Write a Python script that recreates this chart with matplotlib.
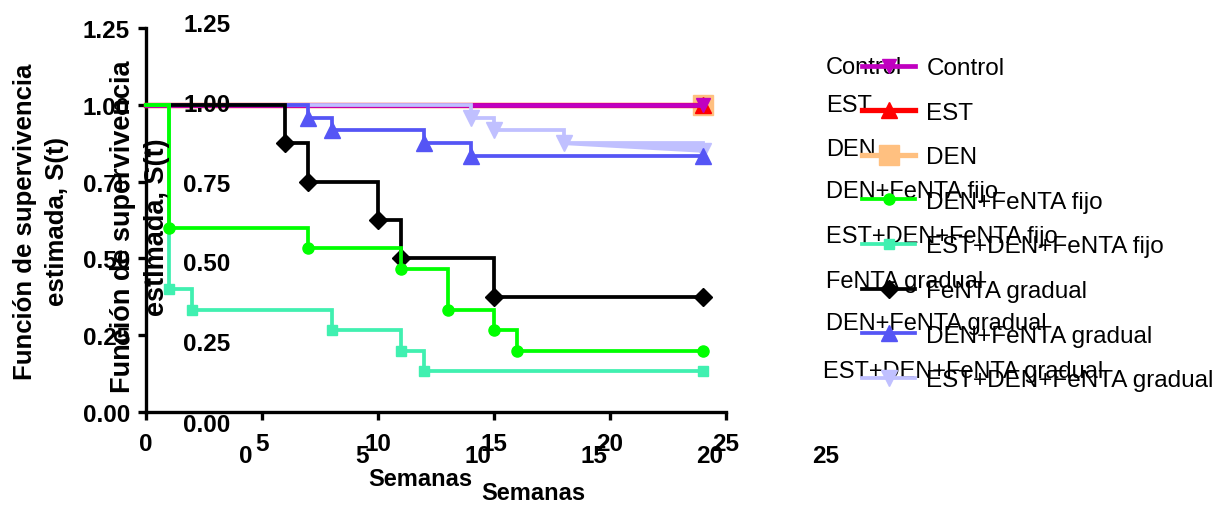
import matplotlib
matplotlib.use("Agg")
import matplotlib.pyplot as plt

# ---------------- data ----------------
week_ticks = [0, 5, 10, 15, 20, 25]
surv_ticks = [0.00, 0.25, 0.50, 0.75, 1.00, 1.25]
surv_tick_labels = ["0.00", "0.25", "0.50", "0.75", "1.00", "1.25"]

group_labels = ["Control", "EST", "DEN", "DEN+FeNTA fijo", "EST+DEN+FeNTA fijo",
                "FeNTA gradual", "DEN+FeNTA gradual", "EST+DEN+FeNTA gradual"]

control_t = [0, 24]
control_s = [1.0, 1.0]
est_t = [0, 24]
est_s = [1.0, 1.0]
den_t = [0, 24]
den_s = [1.0, 1.0]
den_fijo_t = [0, 1, 7, 11, 13, 15, 16, 24]
den_fijo_s = [1.0, 0.600, 0.533, 0.467, 0.333, 0.267, 0.200, 0.200]
est_den_fijo_t = [0, 1, 2, 8, 11, 12, 24]
est_den_fijo_s = [1.0, 0.400, 0.333, 0.267, 0.200, 0.133, 0.133]
fenta_grad_t = [0, 6, 7, 10, 11, 15, 24]
fenta_grad_s = [1.0, 0.875, 0.750, 0.625, 0.500, 0.375, 0.375]
den_grad_t = [0, 7, 8, 12, 14, 24]
den_grad_s = [1.0, 0.958, 0.917, 0.875, 0.833, 0.833]
est_den_grad_t = [0, 14, 15, 18, 24]
est_den_grad_s = [1.0, 0.958, 0.917, 0.875, 0.850]

series_t = [control_t, est_t, den_t, den_fijo_t, est_den_fijo_t,
            fenta_grad_t, den_grad_t, est_den_grad_t]
series_s = [control_s, est_s, den_s, den_fijo_s, est_den_fijo_s,
            fenta_grad_s, den_grad_s, est_den_grad_s]

# ---------------- styles ----------------
colors = ["#C000C0", "#FF0000", "#FFC080", "#00FF00", "#40F0B0",
          "#000000", "#5555F5", "#C0C0FF"]
markers = ["v", "^", "s", "o", "s", "D", "^", "v"]
msizes = [10, 12, 14, 8, 7, 9.5, 11.5, 11.5]
lwidths = [3.4, 3.8, 3.8, 2.7, 2.7, 2.7, 2.7, 2.7]
zorders = [5, 4, 3, 10, 9, 8, 7, 6]

W, H, DPI = 1222, 506, 100
FONT = "Liberation Sans"
plt.rcParams["font.family"] = [FONT, "DejaVu Sans"]


def fx(x):
    return x / W


def fy(y):
    return 1 - y / H


fig = plt.figure(figsize=(W / DPI, H / DPI), dpi=DPI)
ax = fig.add_axes([fx(146), fy(413), (726 - 146) / W, (413 - 29) / H])
ax.set_xlim(0, 25)
ax.set_ylim(0, 1.25)

handles = []
for t, s, c, m, ms, lw, z, lab in zip(series_t, series_s, colors, markers,
                                       msizes, lwidths, zorders, group_labels):
    ln, = ax.plot(t, s, drawstyle="steps-post", color=c, lw=lw, marker=m,
                  ms=ms, markevery=slice(1, None), mec=c, mfc=c,
                  solid_joinstyle="miter", zorder=z, label=lab, clip_on=False)
    handles.append(ln)

# tail of the last gradual group: taper between last two estimates
ax.fill_between(est_den_grad_t[-2:], est_den_grad_s[-2:],
                [est_den_grad_s[-2]] * 2, color=colors[7], lw=2,
                edgecolor=colors[7], zorder=zorders[7])

for side in ("top", "right"):
    ax.spines[side].set_visible(False)
for side in ("left", "bottom"):
    ax.spines[side].set_linewidth(2.4)
ax.set_xticks(week_ticks)
ax.set_xticklabels([str(w) for w in week_ticks])
ax.set_yticks(surv_ticks)
ax.set_yticklabels(surv_tick_labels)
ax.tick_params(direction="out", length=5.5, width=2.4, labelsize=17.5)
ax.tick_params(axis="y", pad=6)
ax.tick_params(axis="x", pad=9)
for lab in ax.get_xticklabels() + ax.get_yticklabels():
    lab.set_fontweight("bold")

ax.set_xlabel("Semanas", fontsize=17, fontweight="bold", va="center")
ax.xaxis.set_label_coords((420 - 146) / 580, (413 - 480) / 384)
ax.set_ylabel("Función de supervivencia\nestimada, S(t)", fontsize=18.5,
              fontweight="bold", va="center", linespacing=1.45)
ax.yaxis.set_label_coords((41 - 146) / 580, (413 - 222) / 384)

# overlaid second copy of the axis texts
for v, lab in zip(surv_ticks, surv_tick_labels):
    fig.text(fx(207), fy(425 - 320 * v), lab, ha="center", va="center",
             fontsize=17.5, fontweight="bold")
for w in week_ticks:
    fig.text(fx(246 + 23.2 * w), fy(457), str(w), ha="center", va="center",
             fontsize=17.5, fontweight="bold")
fig.text(fx(533), fy(494), "Semanas", ha="center", va="center",
         fontsize=17, fontweight="bold")
fig.text(fx(140), fy(227), "Función de supervivencia\nestimada, S(t)",
         ha="center", va="center", rotation=90, fontsize=19.5,
         fontweight="bold", linespacing=1.35)

# legend
leg = fig.legend(handles=handles, loc="upper left",
                 bbox_to_anchor=(fx(862), fy(58)), frameon=False,
                 fontsize=17.5, handlelength=2.2, handletextpad=0.45,
                 labelspacing=0.93, borderpad=0, borderaxespad=0,
                 numpoints=1)

ghost_y = [68, 106, 150, 192, 237, 282, 324, 372]
ghost_x = [826, 826, 826, 826, 826, 826, 826, 823]
for gx, gy, lab in zip(ghost_x, ghost_y, group_labels):
    fig.text(fx(gx), fy(gy), lab, ha="left", va="center", fontsize=17)

fig.savefig("out.png", dpi=DPI)
